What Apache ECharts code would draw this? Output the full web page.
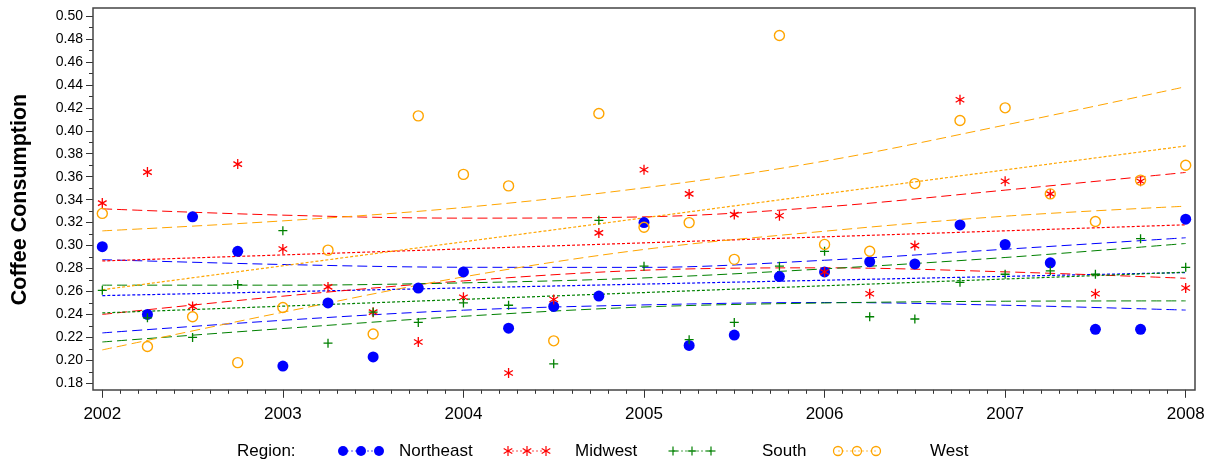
<!DOCTYPE html>
<html>
<head>
<meta charset="utf-8">
<script src="https://cdn.jsdelivr.net/npm/echarts@6/dist/echarts.min.js"></script>
<style>
html,body{margin:0;padding:0;background:#fff;}
#chart{width:1216px;height:469px;}
</style>
</head>
<body>
<div id="chart"></div>
<script>
// ---- data ----
const quarters = [2002, 2002.25, 2002.5, 2002.75, 2003, 2003.25, 2003.5, 2003.75,
  2004, 2004.25, 2004.5, 2004.75, 2005, 2005.25, 2005.5, 2005.75,
  2006, 2006.25, 2006.5, 2006.75, 2007, 2007.25, 2007.5, 2007.75, 2008];
const northeast = [0.299, 0.240, 0.325, 0.295, 0.195, 0.250, 0.203, 0.263, 0.277, 0.228, 0.247, 0.256, 0.320,
  0.213, 0.222, 0.273, 0.277, 0.286, 0.284, 0.318, 0.301, 0.285, 0.227, 0.227, 0.323];
const midwest = [0.337, 0.364, 0.247, 0.371, 0.297, 0.264, 0.242, 0.216, 0.255, 0.189, 0.253, 0.311, 0.366,
  0.345, 0.327, 0.326, 0.277, 0.258, 0.300, 0.427, 0.356, 0.345, 0.258, 0.356, 0.263];
const south = [0.261, 0.237, 0.220, 0.266, 0.313, 0.215, 0.242, 0.233, 0.250, 0.248, 0.197, 0.322, 0.282,
  0.218, 0.233, 0.282, 0.295, 0.238, 0.236, 0.268, 0.275, 0.278, 0.275, 0.306, 0.281];
const west = [0.328, 0.212, 0.238, 0.198, 0.246, 0.296, 0.223, 0.413, 0.362, 0.352, 0.217, 0.415, 0.316,
  0.320, 0.288, 0.483, 0.301, 0.295, 0.354, 0.409, 0.420, 0.345, 0.321, 0.357, 0.370];

// fitted regression lines (endpoints) and confidence limits (yearly)
const fitYears = [2002, 2008];
const neFit = [0.2564, 0.2765];
const mwFit = [0.2866, 0.3181];
const soFit = [0.2413, 0.2768];
const weFit = [0.2615, 0.3868];

const bandYears = [2002, 2003, 2004, 2005, 2006, 2007, 2008];
const neUpper = [0.2877, 0.2835, 0.2811, 0.2810, 0.2872, 0.2968, 0.3068];
const neLower = [0.2239, 0.2349, 0.2437, 0.2483, 0.2504, 0.2480, 0.2438];
const mwUpper = [0.3320, 0.3265, 0.3239, 0.3250, 0.3337, 0.3483, 0.3637];
const mwLower = [0.2400, 0.2559, 0.2692, 0.2785, 0.2806, 0.2771, 0.2715];
const soUpper = [0.2655, 0.2655, 0.2675, 0.2718, 0.2797, 0.2896, 0.3018];
const soLower = [0.2160, 0.2277, 0.2384, 0.2465, 0.2500, 0.2515, 0.2518];
const weUpper = [0.3128, 0.3215, 0.3332, 0.3503, 0.3736, 0.4050, 0.4384];
const weLower = [0.2091, 0.2419, 0.2727, 0.2966, 0.3125, 0.3256, 0.3343];

const regionNames = ['Northeast', 'Midwest', 'South', 'West'];
const yTitle = 'Coffee Consumption';
const legendTitle = 'Region:';

// ---- styling ----
const colors = { Northeast: '#0000ff', Midwest: '#ff0000', South: '#008000', West: '#ffa500' };
const starPath = 'path://M5,0 L5,10 M0.67,2.5 L9.33,7.5 M0.67,7.5 L9.33,2.5';
const plusPath = 'path://M5,0 L5,10 M0,5 L10,5';
const FONT = 'Liberation Sans, Arial, Helvetica, sans-serif';

function pairs(xs, ys) { return xs.map((x, i) => [x, ys[i]]); }

const markerStyles = {
  Northeast: { symbol: 'circle', symbolSize: 11, itemStyle: { color: colors.Northeast, opacity: 1 } },
  Midwest: { symbol: starPath, symbolSize: 10, symbolKeepAspect: true,
    itemStyle: { color: 'rgba(0,0,0,0)', borderColor: colors.Midwest, borderWidth: 1.3, opacity: 1 } },
  South: { symbol: plusPath, symbolSize: 9,
    itemStyle: { color: 'rgba(0,0,0,0)', borderColor: colors.South, borderWidth: 1.3, opacity: 1 } },
  West: { symbol: 'circle', symbolSize: 10,
    itemStyle: { color: 'rgba(0,0,0,0)', borderColor: colors.West, borderWidth: 1.4, opacity: 1 } }
};

const regionData = { Northeast: northeast, Midwest: midwest, South: south, West: west };
const fits = { Northeast: neFit, Midwest: mwFit, South: soFit, West: weFit };
const uppers = { Northeast: neUpper, Midwest: mwUpper, South: soUpper, West: weUpper };
const lowers = { Northeast: neLower, Midwest: mwLower, South: soLower, West: weLower };

const series = [];
regionNames.forEach(name => {
  const c = colors[name];
  [uppers[name], lowers[name]].forEach(band => {
    series.push({
      type: 'line', data: pairs(bandYears, band), smooth: 0.35, symbol: 'none', silent: true, z: 2,
      lineStyle: { color: c, width: 1, type: [10, 5] }
    });
  });
  series.push({
    type: 'line', data: pairs(fitYears, fits[name]), symbol: 'none', silent: true, z: 2,
    lineStyle: { color: c, width: 1.2, type: [3, 2] }
  });
});
regionNames.forEach(name => {
  series.push(Object.assign({
    name: name, type: 'scatter', z: 5, data: pairs(quarters, regionData[name])
  }, markerStyles[name]));
});

// ---- legend built as graphic elements ----
const legendY = 451;
const legendItems = [
  { name: 'Northeast', mx: [343, 361, 379], tx: 399 },
  { name: 'Midwest', mx: [508, 527, 546], tx: 575 },
  { name: 'South', mx: [673, 692, 711], tx: 762 },
  { name: 'West', mx: [838, 857, 876], tx: 930 }
];
function markerGraphic(name, x, y) {
  const c = colors[name];
  if (name === 'Northeast') return { type: 'circle', shape: { cx: x, cy: y, r: 5 }, style: { fill: c } };
  if (name === 'West') return { type: 'circle', shape: { cx: x, cy: y, r: 4.5 }, style: { fill: 'none', stroke: c, lineWidth: 1.3 } };
  if (name === 'South') return { type: 'group', children: [
    { type: 'line', shape: { x1: x - 4.5, y1: y, x2: x + 4.5, y2: y }, style: { stroke: c, lineWidth: 1.2 } },
    { type: 'line', shape: { x1: x, y1: y - 4.5, x2: x, y2: y + 4.5 }, style: { stroke: c, lineWidth: 1.2 } }
  ] };
  return { type: 'group', children: [
    { type: 'line', shape: { x1: x, y1: y - 5, x2: x, y2: y + 5 }, style: { stroke: c, lineWidth: 1.2 } },
    { type: 'line', shape: { x1: x - 4.3, y1: y - 2.5, x2: x + 4.3, y2: y + 2.5 }, style: { stroke: c, lineWidth: 1.2 } },
    { type: 'line', shape: { x1: x - 4.3, y1: y + 2.5, x2: x + 4.3, y2: y - 2.5 }, style: { stroke: c, lineWidth: 1.2 } }
  ] };
}
const graphics = [
  { type: 'rect', shape: { x: 93, y: 8, width: 1102, height: 382 }, z: 10, silent: true,
    style: { fill: 'none', stroke: '#444', lineWidth: 1.5 } },
  { type: 'text', x: 237, y: legendY, style: { text: legendTitle, font: '17px ' + FONT, fill: '#000', textVerticalAlign: 'middle' } }
];
legendItems.forEach(it => {
  const c = colors[it.name];
  graphics.push({ type: 'line', shape: { x1: it.mx[0], y1: legendY, x2: it.mx[2], y2: legendY },
    style: { stroke: c, lineWidth: 1, lineDash: [2, 2], opacity: 0.7 } });
  it.mx.forEach(x => graphics.push(markerGraphic(it.name, x, legendY)));
  graphics.push({ type: 'text', x: it.tx, y: legendY, style: { text: it.name, font: '17px ' + FONT, fill: '#000', textVerticalAlign: 'middle' } });
});
graphics.push({ type: 'text', x: 20, y: 199.5, rotation: Math.PI / 2,
  style: { text: yTitle, font: 'bold 21.5px ' + FONT, fill: '#000', textAlign: 'center', textVerticalAlign: 'middle' } });

const chart = echarts.init(document.getElementById('chart'), null, { renderer: 'canvas' });
chart.setOption({
  animation: false,
  backgroundColor: '#fff',
  grid: { left: 102.3, right: 30.3, top: 16, bottom: 85.7, containLabel: false },
  xAxis: {
    type: 'value', min: 2002, max: 2008, interval: 1, offset: 6.5,
    axisLine: { show: false },
    axisTick: { show: true, length: 8, lineStyle: { color: '#333', width: 1 } },
    minorTick: { show: true, splitNumber: 10, length: 4, lineStyle: { color: '#333', width: 1 } },
    splitLine: { show: false },
    axisLabel: { margin: 16, fontSize: 17, color: '#000', fontFamily: FONT, formatter: v => String(v) }
  },
  yAxis: {
    type: 'value', min: 0.18, max: 0.50, interval: 0.02, offset: 9.3,
    axisLine: { show: false },
    axisTick: { show: true, length: 7, lineStyle: { color: '#333', width: 1 } },
    minorTick: { show: true, splitNumber: 2, length: 4, lineStyle: { color: '#333', width: 1 } },
    splitLine: { show: false },
    axisLabel: { margin: 10, fontSize: 14, color: '#000', fontFamily: FONT, formatter: v => v.toFixed(2) }
  },
  graphic: graphics,
  series: series
});
</script>
</body>
</html>
